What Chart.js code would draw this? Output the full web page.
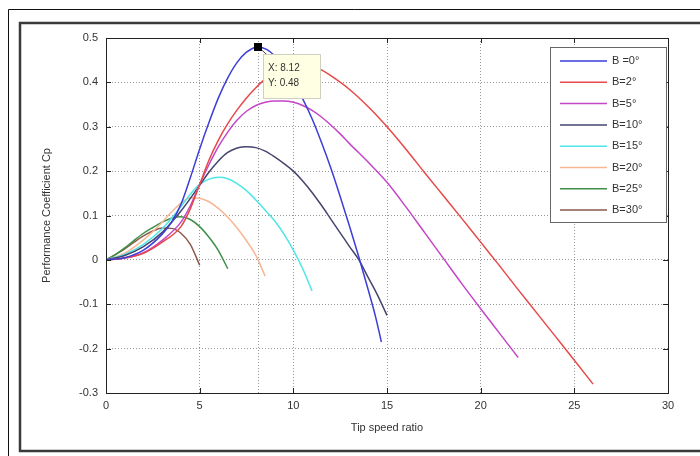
<!DOCTYPE html>
<html><head><meta charset="utf-8">
<script src="https://cdn.jsdelivr.net/npm/chart.js@4/dist/chart.umd.min.js"></script>
<style>html,body{margin:0;padding:0;background:#fff;}#wrap{width:700px;height:456px;}</style>
</head><body><div id="wrap"><canvas id="c" width="700" height="456"></canvas></div>
<script>
// ---- data ----
const seriesLabels = ['B =0°','B=2°','B=5°','B=10°','B=15°','B=20°','B=25°','B=30°'];
const xTickLabels = ['0','5','10','15','20','25','30'];
const yTickLabels = ['-0.3','-0.2','-0.1','0','0.1','0.2','0.3','0.4','0.5'];
const xAxisTitle = 'Tip speed ratio';
const yAxisTitle = 'Performance Coefficient Cp';
const dataTipX = 8.12;
const dataTipY = 0.48;

const tsrB0 = [0,1,2,3,3.5,4,4.5,5,5.5,6,6.5,7,7.5,8.12,8.6,9,9.5,10,10.5,11,11.5,12,12.5,13,13.5,14,14.4,14.7];
const cpB0  = [0,0.005,0.022,0.058,0.085,0.125,0.185,0.25,0.31,0.365,0.41,0.445,0.468,0.48,0.474,0.46,0.435,0.40,0.363,0.318,0.265,0.207,0.143,0.076,0.006,-0.068,-0.13,-0.185];

const tsrB2 = [0,1,2,3,4,4.5,5,5.5,6,6.5,7,7.5,8,8.5,9,9.5,10,10.5,11,11.5,12,13,14,15,16,17,18,19,20,21,22,23,24,25,26];
const cpB2  = [0,0.004,0.015,0.04,0.075,0.115,0.17,0.225,0.27,0.307,0.338,0.365,0.388,0.408,0.423,0.434,0.44,0.442,0.437,0.428,0.415,0.384,0.345,0.30,0.25,0.197,0.145,0.093,0.04,-0.013,-0.067,-0.12,-0.173,-0.226,-0.28];

const tsrB5 = [0,1,2,3,4,4.5,5,5.5,6,6.5,7,7.5,8,8.5,9,9.5,10,10.5,11,11.5,12,12.5,13,14,15,16,17,18,19,20,21,22];
const cpB5  = [0,0.004,0.016,0.044,0.085,0.122,0.17,0.215,0.255,0.288,0.315,0.335,0.348,0.355,0.358,0.358,0.355,0.348,0.337,0.322,0.304,0.284,0.262,0.22,0.175,0.12,0.062,0.004,-0.054,-0.11,-0.165,-0.22];

const tsrB10 = [0,1,2,3,4,5,5.5,6,6.5,7,7.5,8,8.5,9,9.5,10,10.5,11,11.5,12,12.5,13,13.5,14,14.5,15];
const cpB10  = [0,0.01,0.03,0.062,0.11,0.168,0.198,0.223,0.242,0.252,0.255,0.253,0.245,0.232,0.217,0.2,0.178,0.152,0.123,0.092,0.061,0.03,0.0,-0.04,-0.08,-0.125];

const tsrB15 = [0,1,2,3,4,4.5,5,5.5,6,6.5,7,7.5,8,8.5,9,9.5,10,10.5,11];
const cpB15  = [0,0.012,0.035,0.07,0.12,0.148,0.17,0.182,0.186,0.183,0.172,0.156,0.135,0.112,0.088,0.058,0.022,-0.02,-0.07];

const tsrB20 = [0,1,2,3,3.5,4,4.5,5,5.5,6,6.5,7,7.5,8,8.5];
const cpB20  = [0,0.015,0.045,0.085,0.108,0.128,0.14,0.139,0.131,0.116,0.096,0.072,0.043,0.01,-0.037];

const tsrB25 = [0,0.5,1,1.5,2,2.5,3,3.5,4,4.5,5,5.5,6,6.5];
const cpB25  = [0,0.012,0.027,0.044,0.06,0.073,0.085,0.094,0.097,0.091,0.075,0.051,0.021,-0.02];

const tsrB30 = [0,0.5,1,1.5,2,2.5,3,3.5,4,4.5,5];
const cpB30  = [0,0.012,0.025,0.04,0.054,0.065,0.072,0.071,0.06,0.035,-0.012];

// ---- build ----
const xs = [tsrB0,tsrB2,tsrB5,tsrB10,tsrB15,tsrB20,tsrB25,tsrB30];
const ys = [cpB0,cpB2,cpB5,cpB10,cpB15,cpB20,cpB25,cpB30];
const colors = ['#3d3dd8','#e84848','#c346c6','#45456e','#4ee6e6','#f6b894','#3f8f48','#8a5a4a'];

const datasets = seriesLabels.map((lab,i)=>({
  label: lab,
  data: xs[i].map((x,j)=>({x:x,y:ys[i][j]})),
  borderColor: colors[i],
  backgroundColor: colors[i],
  borderWidth: 1.5,
  pointRadius: 0,
  showLine: true,
  cubicInterpolationMode: 'monotone',
  fill: false
}));

const FONT = "'Liberation Sans', Arial, sans-serif";

const decor = {
  id: 'decor',
  beforeDraw(chart){
    const ctx = chart.ctx;
    ctx.save();
    ctx.fillStyle = '#fff';
    ctx.fillRect(0,0,700,456);
    ctx.strokeStyle = '#111'; ctx.lineWidth = 1;
    ctx.beginPath(); ctx.moveTo(8.5,456); ctx.lineTo(8.5,9.5); ctx.lineTo(700,9.5); ctx.stroke();
    ctx.strokeStyle = '#3a3a3a'; ctx.lineWidth = 2.5;
    ctx.beginPath(); ctx.moveTo(700,23); ctx.lineTo(20,23); ctx.lineTo(20,451); ctx.lineTo(700,451); ctx.stroke();
    ctx.restore();
  },
  beforeDatasetsDraw(chart){
    const ctx = chart.ctx, sx = chart.scales.x, a = chart.chartArea;
    const px = sx.getPixelForValue(dataTipX);
    ctx.save();
    ctx.strokeStyle = 'rgba(0,0,0,0.4)'; ctx.lineWidth = 1; ctx.setLineDash([1,2]);
    ctx.beginPath(); ctx.moveTo(Math.round(px)+0.5,a.top); ctx.lineTo(Math.round(px)+0.5,a.bottom); ctx.stroke();
    ctx.restore();
  },
  afterDatasetsDraw(chart){
    const ctx = chart.ctx, a = chart.chartArea, sx = chart.scales.x, sy = chart.scales.y;
    ctx.save();
    ctx.strokeStyle = '#222'; ctx.lineWidth = 1; ctx.setLineDash([]);
    ctx.strokeRect(Math.round(a.left)+0.5, Math.round(a.top)+0.5, Math.round(a.right-a.left), Math.round(a.bottom-a.top));
    ctx.beginPath();
    sx.ticks.forEach(t=>{
      const p = Math.round(sx.getPixelForValue(t.value))+0.5;
      ctx.moveTo(p,a.bottom); ctx.lineTo(p,a.bottom-5);
      ctx.moveTo(p,a.top); ctx.lineTo(p,a.top+5);
    });
    sy.ticks.forEach(t=>{
      const p = Math.round(sy.getPixelForValue(t.value))+0.5;
      ctx.moveTo(a.left,p); ctx.lineTo(a.left+5,p);
      ctx.moveTo(a.right,p); ctx.lineTo(a.right-5,p);
    });
    ctx.stroke();

    // data tip
    const mx = sx.getPixelForValue(dataTipX), my = sy.getPixelForValue(dataTipY);
    ctx.strokeStyle = '#444'; ctx.lineWidth = 1;
    ctx.beginPath(); ctx.moveTo(mx,my); ctx.lineTo(mx+9,my+8); ctx.stroke();
    ctx.fillStyle = '#000';
    ctx.fillRect(Math.round(mx)-4, Math.round(my)-4, 8, 8);
    const bx = Math.round(mx)+5, by = Math.round(my)+7;
    ctx.fillStyle = '#ffffe4';
    ctx.fillRect(bx, by, 57, 44);
    ctx.strokeStyle = '#d0d0c0';
    ctx.strokeRect(bx+0.5, by+0.5, 57, 44);
    ctx.fillStyle = '#333';
    ctx.font = '10px ' + FONT;
    ctx.textBaseline = 'middle'; ctx.textAlign = 'left';
    ctx.fillText('X: ' + dataTipX.toFixed(2), bx+5, by+14);
    ctx.fillText('Y: ' + dataTipY.toFixed(2), bx+5, by+29);

    // legend
    const lx = 550, ly = 47, lw = 116, lh = 175;
    ctx.fillStyle = '#fff';
    ctx.fillRect(lx, ly, lw, lh);
    ctx.strokeStyle = '#666'; ctx.lineWidth = 1;
    ctx.strokeRect(lx+0.5, ly+0.5, lw, lh);
    ctx.font = '11px ' + FONT;
    chart.data.datasets.forEach((ds,i)=>{
      const yy = ly + 14 + i*21.3;
      ctx.strokeStyle = ds.borderColor; ctx.lineWidth = 1.5;
      ctx.beginPath(); ctx.moveTo(lx+10, yy); ctx.lineTo(lx+57, yy); ctx.stroke();
      ctx.fillStyle = '#333';
      ctx.fillText(ds.label, lx+62, yy);
    });
    ctx.restore();
  }
};

new Chart(document.getElementById('c'), {
  type: 'scatter',
  data: { datasets },
  options: {
    responsive: false,
    devicePixelRatio: 1,
    animation: false,
    layout: { padding: { left: 0, top: 38, right: 32, bottom: 0 } },
    plugins: { legend: { display: false }, tooltip: { enabled: false } },
    scales: {
      x: {
        type: 'linear', min: 0, max: 30,
        afterFit(s){ s.height = 63; },
        ticks: { stepSize: 5, padding: 6, color: '#333', font: { family: FONT, size: 11 },
                 callback: (v,i)=> xTickLabels[i] },
        grid: { color: 'rgba(0,0,0,0.4)', drawTicks: false, lineWidth: 1 },
        border: { display: false, dash: [1,2] },
        title: { display: true, text: xAxisTitle, color: '#333', font: { family: FONT, size: 11 }, padding: { top: 0, bottom: 21 } }
      },
      y: {
        type: 'linear', min: -0.3, max: 0.5,
        afterFit(s){ s.width = 106; },
        ticks: { stepSize: 0.1, padding: 8, color: '#333', font: { family: FONT, size: 11 },
                 callback: (v,i)=> yTickLabels[i] },
        grid: { color: 'rgba(0,0,0,0.4)', drawTicks: false, lineWidth: 1 },
        border: { display: false, dash: [1,2] },
        title: { display: true, text: yAxisTitle, color: '#333', font: { family: FONT, size: 11 }, padding: { top: 40, bottom: 0 } }
      }
    }
  },
  plugins: [decor]
});
</script></body></html>
